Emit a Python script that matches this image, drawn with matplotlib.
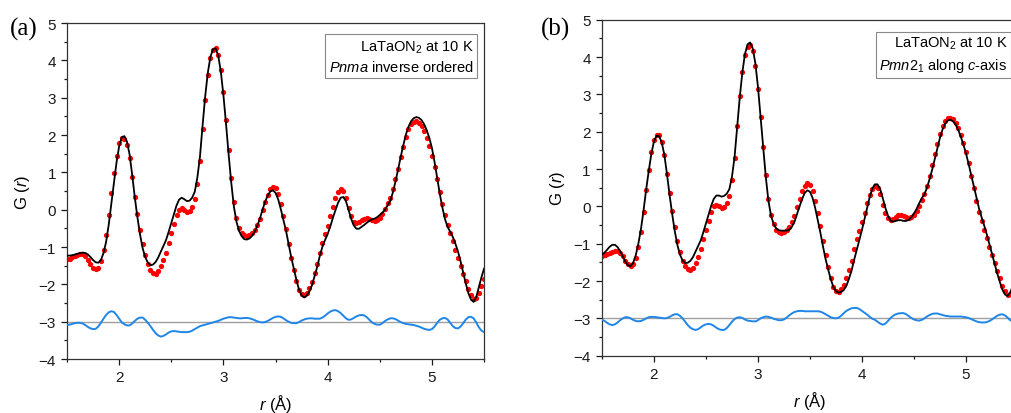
import numpy as np
import matplotlib
matplotlib.use("Agg")
import matplotlib.pyplot as plt

plt.rcParams["font.family"] = ["Liberation Sans", "DejaVu Sans"]
plt.rcParams["mathtext.fontset"] = "custom"
plt.rcParams["mathtext.rm"] = "Liberation Sans"
plt.rcParams["mathtext.it"] = "Liberation Sans:italic"

# r grid of the PDF (Angstrom)
r = np.round(np.arange(1.5, 5.5001, 0.025), 3)

# observed G(r), LaTaON2 at 10 K (same data in both panels)
g_obs = [
    -1.32, -1.31, -1.28, -1.24, -1.21, -1.19, -1.20, -1.25, -1.34, -1.45,
    -1.55, -1.60, -1.55, -1.38, -1.08, -0.68, -0.15, 0.45, 0.98, 1.45,
    1.78, 1.92, 1.90, 1.72, 1.38, 0.88, 0.35, -0.12, -0.55, -0.92,
    -1.22, -1.45, -1.61, -1.69, -1.71, -1.65, -1.52, -1.35, -1.15, -0.88,
    -0.62, -0.38, -0.15, 0.00, 0.04, 0.00, -0.05, -0.03, 0.08, 0.28,
    0.70, 1.30, 2.15, 2.95, 3.60, 4.05, 4.28, 4.32, 4.15, 3.75,
    3.15, 2.40, 1.60, 0.85, 0.20, -0.22, -0.48, -0.62, -0.69, -0.70,
    -0.68, -0.63, -0.55, -0.42, -0.25, -0.02, 0.20, 0.40, 0.55, 0.62,
    0.58, 0.42, 0.15, -0.18, -0.52, -0.92, -1.30, -1.62, -1.92, -2.15,
    -2.27, -2.29, -2.22, -2.10, -1.93, -1.70, -1.45, -1.15, -0.88, -0.65,
    -0.43, -0.18, 0.08, 0.30, 0.47, 0.55, 0.50, 0.32, 0.05, -0.18,
    -0.32, -0.37, -0.34, -0.28, -0.24, -0.23, -0.25, -0.28, -0.30, -0.28,
    -0.22, -0.12, 0.02, 0.18, 0.32, 0.55, 0.82, 1.10, 1.40, 1.68,
    1.95, 2.15, 2.29, 2.36, 2.37, 2.33, 2.24, 2.10, 1.92, 1.70,
    1.45, 1.15, 0.82, 0.48, 0.15, -0.15, -0.40, -0.62, -0.85, -1.08,
    -1.30, -1.52, -1.72, -1.92, -2.12, -2.28, -2.38, -2.36, -2.22, -2.05,
    -1.86,
]

# difference curves (obs - calc), drawn offset at -3
diff_a = [
    -3.09, -3.08, -3.06, -3.04, -3.03, -3.03, -3.05, -3.09, -3.14, -3.18,
    -3.20, -3.19, -3.13, -3.03, -2.92, -2.82, -2.75, -2.72, -2.74, -2.82,
    -2.92, -3.02, -3.07, -3.10, -3.10, -3.05, -2.98, -2.92, -2.89, -2.89,
    -2.95, -3.03, -3.12, -3.22, -3.31, -3.37, -3.40, -3.38, -3.34, -3.29,
    -3.26, -3.25, -3.26, -3.27, -3.28, -3.28, -3.28, -3.27, -3.24, -3.20,
    -3.16, -3.12, -3.10, -3.08, -3.06, -3.04, -3.02, -3.00, -2.98, -2.95,
    -2.92, -2.90, -2.88, -2.88, -2.89, -2.90, -2.91, -2.91, -2.90, -2.90,
    -2.91, -2.93, -2.96, -2.99, -3.01, -3.02, -3.01, -2.98, -2.94, -2.90,
    -2.87, -2.86, -2.87, -2.91, -2.96, -3.00, -3.03, -3.04, -3.04, -3.01,
    -2.97, -2.94, -2.92, -2.91, -2.91, -2.92, -2.92, -2.92, -2.89, -2.84,
    -2.78, -2.73, -2.70, -2.69, -2.72, -2.77, -2.84, -2.91, -2.95, -2.94,
    -2.90, -2.86, -2.83, -2.82, -2.83, -2.88, -2.95, -3.02, -3.06, -3.08,
    -3.08, -3.04, -2.98, -2.94, -2.91, -2.91, -2.93, -2.97, -3.01, -3.04,
    -3.06, -3.07, -3.08, -3.09, -3.11, -3.13, -3.16, -3.19, -3.21, -3.22,
    -3.20, -3.13, -3.03, -2.95, -2.91, -2.90, -2.94, -3.03, -3.12, -3.17,
    -3.18, -3.13, -3.04, -2.94, -2.88, -2.87, -2.91, -3.02, -3.15, -3.24,
    -3.28,
]

diff_b = [
    -3.03, -3.07, -3.12, -3.16, -3.18, -3.16, -3.11, -3.05, -3.00, -2.97,
    -2.97, -3.00, -3.04, -3.07, -3.08, -3.07, -3.04, -3.00, -2.97, -2.96,
    -2.96, -2.97, -2.98, -2.99, -3.00, -2.99, -2.96, -2.92, -2.89, -2.89,
    -2.93, -3.00, -3.09, -3.18, -3.25, -3.29, -3.31, -3.29, -3.24, -3.19,
    -3.16, -3.15, -3.16, -3.20, -3.25, -3.29, -3.31, -3.31, -3.26, -3.18,
    -3.09, -3.02, -2.98, -2.97, -2.99, -3.03, -3.06, -3.07, -3.08, -3.08,
    -3.05, -3.00, -2.97, -2.95, -2.96, -2.98, -3.01, -3.03, -3.05, -3.05,
    -3.03, -2.98, -2.92, -2.87, -2.83, -2.81, -2.80, -2.80, -2.81, -2.81,
    -2.81, -2.81, -2.81, -2.81, -2.82, -2.85, -2.89, -2.93, -2.97, -2.99,
    -3.00, -2.98, -2.93, -2.86, -2.80, -2.76, -2.73, -2.72, -2.72, -2.75,
    -2.80, -2.85, -2.90, -2.96, -3.01, -3.04, -3.09, -3.14, -3.17, -3.14,
    -3.07, -2.99, -2.93, -2.89, -2.87, -2.86, -2.86, -2.89, -2.94, -2.99,
    -3.03, -3.05, -3.06, -3.04, -3.00, -2.95, -2.91, -2.88, -2.87, -2.87,
    -2.89, -2.91, -2.93, -2.94, -2.95, -2.95, -2.95, -2.95, -2.95, -2.96,
    -2.97, -2.99, -3.02, -3.05, -3.08, -3.10, -3.11, -3.11, -3.10, -3.07,
    -3.03, -2.98, -2.93, -2.90, -2.89, -2.92, -2.98, -3.05, -3.08, -3.06,
    -3.01,
]

diff_offset = -3.0
panel_labels = ["(a)", "(b)"]
model_names = ["$Pnma$ inverse ordered", "$Pmn$2$_1$ along $c$-axis"]

g_obs = np.array(g_obs)
diff_a = np.array(diff_a)
diff_b = np.array(diff_b)
# fitted curve = observed - residual
g_calc_a = g_obs - (diff_a - diff_offset)
g_calc_b = g_obs - (diff_b - diff_offset)

fig = plt.figure(figsize=(10.11, 4.14), dpi=100)
ax_a = fig.add_axes([0.0663, 0.1304, 0.4125, 0.8116])
ax_b = fig.add_axes([0.5954, 0.1384, 0.4115, 0.8116])

for ax, calc, diff, lab, model, lx in [
    (ax_a, g_calc_a, diff_a, panel_labels[0], model_names[0], 0.010),
    (ax_b, g_calc_b, diff_b, panel_labels[1], model_names[1], 0.535),
]:
    ax.axhline(diff_offset, color="#a0a0a0", lw=1.0, zorder=1)
    ax.plot(r, g_obs, "o", color="red", ms=3.8, mec="none", zorder=2)
    ax.plot(r, calc, color="black", lw=1.3, zorder=3)
    ax.plot(r, diff, color="#1f86e8", lw=1.4, zorder=3)

    ax.set_xlim(1.5, 5.5)
    ax.set_ylim(-4, 5)
    ax.set_xticks([2, 3, 4, 5])
    ax.set_xticks([1.5, 2.5, 3.5, 4.5, 5.5], minor=True)
    ax.set_yticks(range(-4, 6))
    ax.set_yticks(np.arange(-3.5, 5, 1), minor=True)
    ax.tick_params(which="major", length=4.5, width=0.9, labelsize=11, colors="#1a1a1a")
    ax.tick_params(which="minor", length=2.5, width=0.9, colors="#1a1a1a")
    for s in ax.spines.values():
        s.set_linewidth(0.9)
        s.set_color("#333333")

    ax.set_xlabel("$r$ (Å)", fontsize=12, labelpad=6)
    ax.set_ylabel("G ($r$)", fontsize=12, labelpad=5)

    ax.text(0.975, 0.955, "LaTaON$_2$ at 10 K\n" + model, transform=ax.transAxes,
            ha="right", va="top", fontsize=10.5, linespacing=1.4,
            bbox=dict(boxstyle="square,pad=0.22", fc="white", ec="#888888", lw=0.8))

    fig.text(lx, 0.93, lab, fontsize=18, family="Liberation Serif", va="center")

fig.savefig("out.png", dpi=100)
